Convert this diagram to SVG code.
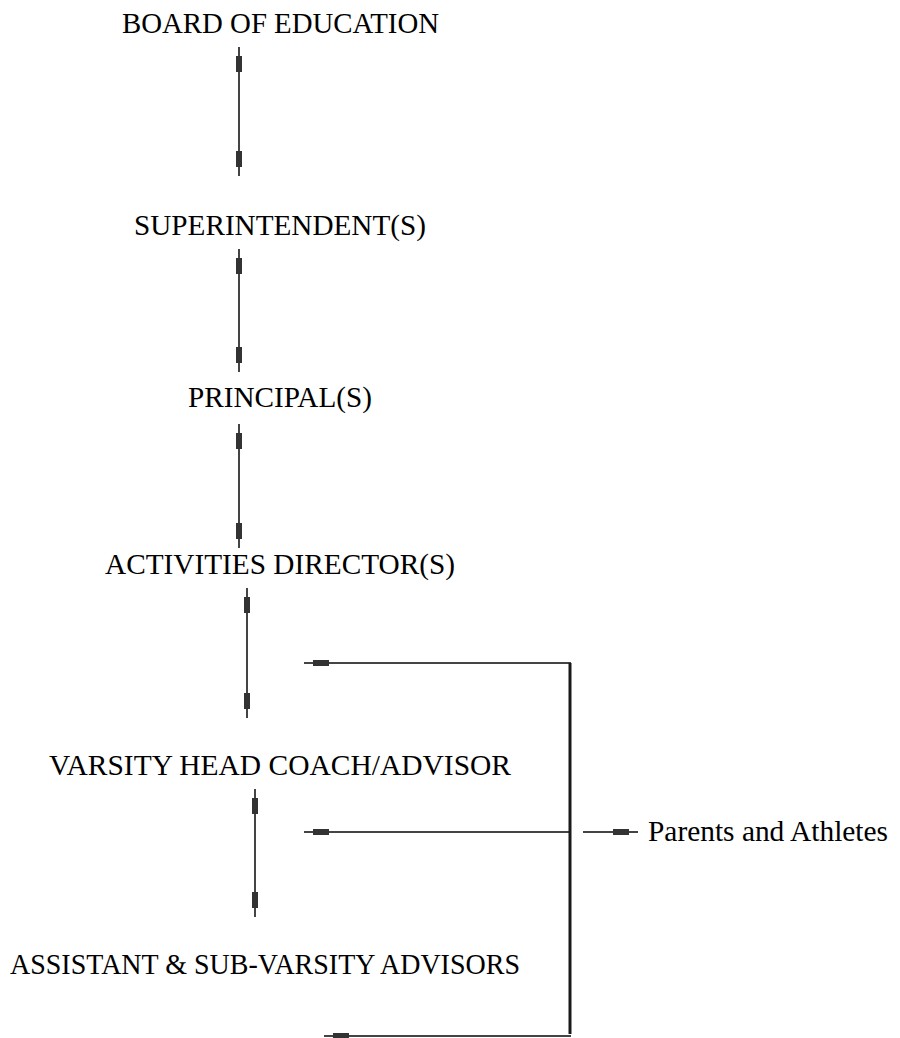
<svg xmlns="http://www.w3.org/2000/svg" width="900" height="1038" viewBox="0 0 900 1038">
<style>
  text { font-family: 'Liberation Serif', 'Times New Roman', serif; font-size: 28.6px; fill: #000; }
  .conn { stroke: #444; stroke-width: 2; fill: none; }
  .bar { stroke: #1a1a1a; stroke-width: 3; fill: none; }
  .v { marker-start: url(#tick); marker-end: url(#tick); }
  .hs { marker-start: url(#tick); }
  .he { marker-end: url(#tick); }
</style>
<defs>
  <marker id="tick" markerUnits="userSpaceOnUse" markerWidth="40" markerHeight="10" viewBox="-30 -5 40 10" refX="0" refY="0" orient="auto-start-reverse" overflow="visible">
    <rect x="-25" y="-3" width="16" height="6" fill="#333"/>
  </marker>
</defs>
<rect width="900" height="1038" fill="#fff"/>

<g id="board"><text x="122" y="33" textLength="317" lengthAdjust="spacingAndGlyphs">BOARD OF EDUCATION</text></g>
<g id="superintendent"><text x="134" y="235" textLength="292" lengthAdjust="spacingAndGlyphs">SUPERINTENDENT(S)</text></g>
<g id="principal"><text x="188" y="407" textLength="184" lengthAdjust="spacingAndGlyphs">PRINCIPAL(S)</text></g>
<g id="activities"><text x="105" y="574" textLength="350" lengthAdjust="spacingAndGlyphs">ACTIVITIES DIRECTOR(S)</text></g>
<g id="varsity"><text x="49" y="775" textLength="462" lengthAdjust="spacingAndGlyphs">VARSITY HEAD COACH/ADVISOR</text></g>
<g id="assistant"><text x="10" y="974" textLength="510" lengthAdjust="spacingAndGlyphs">ASSISTANT &amp; SUB-VARSITY ADVISORS</text></g>
<g id="parents"><text x="648" y="841" textLength="240" lengthAdjust="spacingAndGlyphs">Parents and Athletes</text></g>

<g id="connectors">
  <line class="conn v" x1="239" y1="47" x2="239" y2="176"/>
  <line class="conn v" x1="239" y1="249" x2="239" y2="372"/>
  <line class="conn v" x1="239" y1="424" x2="239" y2="548"/>
  <line class="conn v" x1="247" y1="588" x2="247" y2="718"/>
  <line class="conn v" x1="255" y1="789" x2="255" y2="917"/>
  <line class="conn hs" x1="304" y1="663" x2="571" y2="663"/>
  <line class="conn hs" x1="304" y1="832" x2="571" y2="832"/>
  <line class="conn hs" x1="324" y1="1036" x2="571" y2="1036"/>
  <line class="bar" x1="570" y1="663" x2="570" y2="1034"/>
  <line class="conn he" x1="583" y1="832" x2="638" y2="832"/>
</g>
</svg>
